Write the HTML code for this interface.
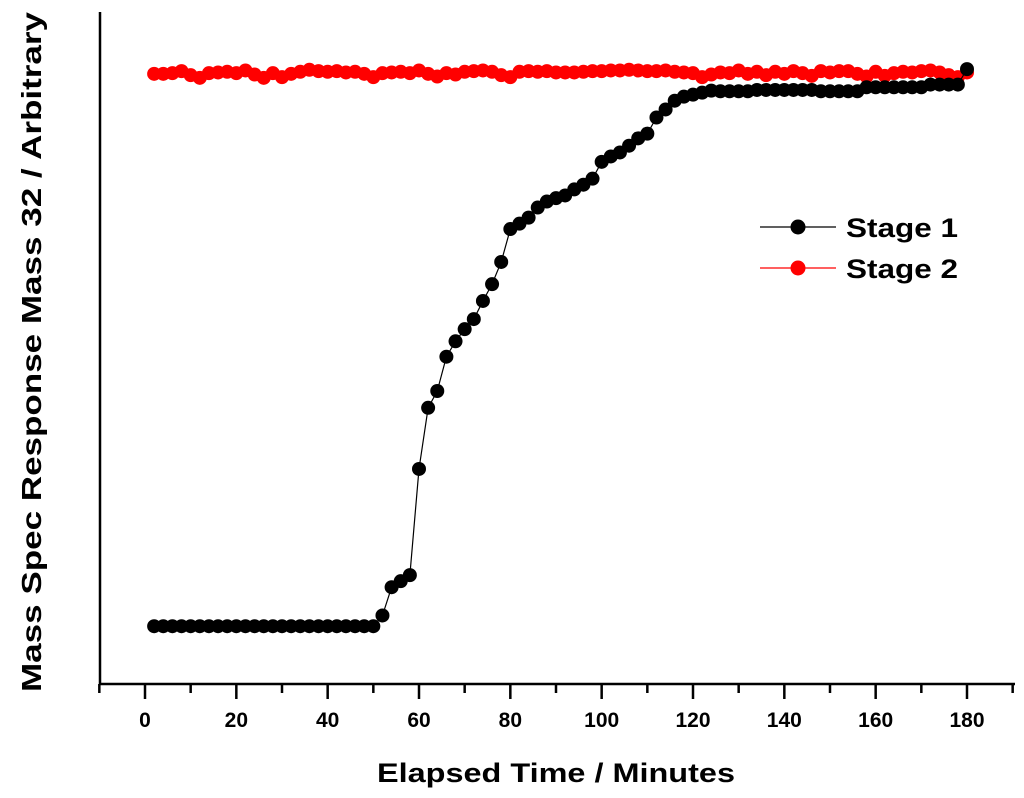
<!DOCTYPE html>
<html><head><meta charset="utf-8"><style>
body{margin:0;background:#fff}
svg{display:block;font-family:"Liberation Sans",Arial,sans-serif;font-weight:bold}
</style></head><body>
<svg id="chart" width="1024" height="798" viewBox="0 0 1024 798" xmlns="http://www.w3.org/2000/svg">
<g id="axes"></g><g id="series"></g>
<g>
<g>
<line x1="760" y1="227" x2="836" y2="227" stroke="#000" stroke-width="1.2"/>
<circle cx="798" cy="227" r="7.5" fill="#000"/>
<text x="846" y="237" font-size="27" textLength="112" lengthAdjust="spacingAndGlyphs">Stage 1</text></g>
<g>
<line x1="760" y1="268" x2="836" y2="268" stroke="#f00" stroke-width="1.2"/>
<circle cx="798" cy="268" r="7.5" fill="#f00"/>
<text x="846" y="278" font-size="27" textLength="112" lengthAdjust="spacingAndGlyphs">Stage 2</text></g>
</g>
<text x="377" y="782" font-size="27" textLength="358" lengthAdjust="spacingAndGlyphs">Elapsed Time / Minutes</text>
<text transform="translate(41,692) rotate(-90)" font-size="28" textLength="680" lengthAdjust="spacingAndGlyphs">Mass Spec Response Mass 32 / Arbitrary</text>
</svg>
<script>
const xTicks=[0,20,40,60,80,100,120,140,160,180];
const stage1Times=[2,4,6,8,10,12,14,16,18,20,22,24,26,28,30,32,34,36,38,40,42,44,46,48,50,52,54,56,58,60,62,64,66,68,70,72,74,76,78,80,82,84,86,88,90,92,94,96,98,100,102,104,106,108,110,112,114,116,118,120,122,124,126,128,130,132,134,136,138,140,142,144,146,148,150,152,154,156,158,160,162,164,166,168,170,172,174,176,178,180];
const stage1Values=[8.6,8.6,8.6,8.6,8.6,8.6,8.6,8.6,8.6,8.6,8.6,8.6,8.6,8.6,8.6,8.6,8.6,8.6,8.6,8.6,8.6,8.6,8.6,8.6,8.6,10.2,14.4,15.3,16.2,32,41.1,43.6,48.7,51,52.8,54.3,57,59.5,62.8,67.7,68.5,69.4,70.9,71.8,72.3,72.7,73.6,74.3,75.2,77.7,78.5,79.1,80.1,81.2,81.9,84.3,85.5,86.8,87.4,87.7,88,88.3,88.2,88.2,88.2,88.2,88.4,88.4,88.4,88.4,88.4,88.4,88.4,88.2,88.2,88.2,88.2,88.2,88.8,88.8,88.8,88.8,88.8,88.8,88.8,89.2,89.2,89.2,89.2,91.5];
const stage2Times=stage1Times;
const stage2Values=[90.8,90.8,90.9,91.2,90.6,90.2,90.9,91.0,91.1,90.9,91.3,90.7,90.2,90.9,90.3,90.8,91.1,91.4,91.2,91.1,91.2,91.0,91.1,90.8,90.3,90.9,91.0,91.1,90.9,91.3,90.8,90.4,90.9,90.7,91.1,91.2,91.3,91.1,90.6,90.3,91.1,91.2,91.1,91.2,91.0,91.0,91.0,91.1,91.2,91.2,91.3,91.3,91.4,91.3,91.2,91.2,91.3,91.1,91.0,90.9,90.3,90.7,91.0,90.9,91.3,90.8,91.1,90.6,91.1,90.8,91.2,90.9,90.5,91.2,91.0,91.2,91.2,90.8,90.4,91.1,90.5,90.9,91.1,91.0,91.2,91.3,91.0,90.6,90.3,91.0];
const NS="http://www.w3.org/2000/svg";
const xs=t=>145+t*(967-145)/180;
const ys=v=>684-v*6.72;
function mk(tag,attrs,parent){const e=document.createElementNS(NS,tag);for(const k in attrs)e.setAttribute(k,attrs[k]);parent.appendChild(e);return e;}
const ax=document.getElementById('axes');
const yAxis=mk('line',{x1:100,y1:12,x2:100,y2:685,stroke:'#000','stroke-width':2.5},ax);


const xAxis=mk('line',{x1:99,y1:684,x2:1015,y2:684,stroke:'#000','stroke-width':2.5},ax);


for(let t=-10;t<=190;t+=10){
  const major=t%20===0;
  const tk=mk('line',{x1:xs(t),y1:684,x2:xs(t),y2:major?699:693,stroke:'#000','stroke-width':2.5},ax);
  
  
}
xTicks.forEach(t=>{
  const tx=mk('text',{x:xs(t),y:727,'font-size':21,'text-anchor':'middle'},ax);
  tx.textContent=t;
  
  
});
const sg=document.getElementById('series');
function series(times,vals,color,name){
  const g=mk('g',{},sg);
  
  
  const p=mk('polyline',{points:times.map((t,i)=>xs(t)+','+ys(vals[i])).join(' '),fill:'none',stroke:color,'stroke-width':1.2},g);
  
  
  times.forEach((t,i)=>{
    const c=mk('circle',{cx:xs(t),cy:ys(vals[i]),r:7,fill:color},g);
    
    
  });
}
series(stage2Times,stage2Values,'#f00','stage-2-series');
series(stage1Times,stage1Values,'#000','stage-1-series');
</script>
</body></html>
